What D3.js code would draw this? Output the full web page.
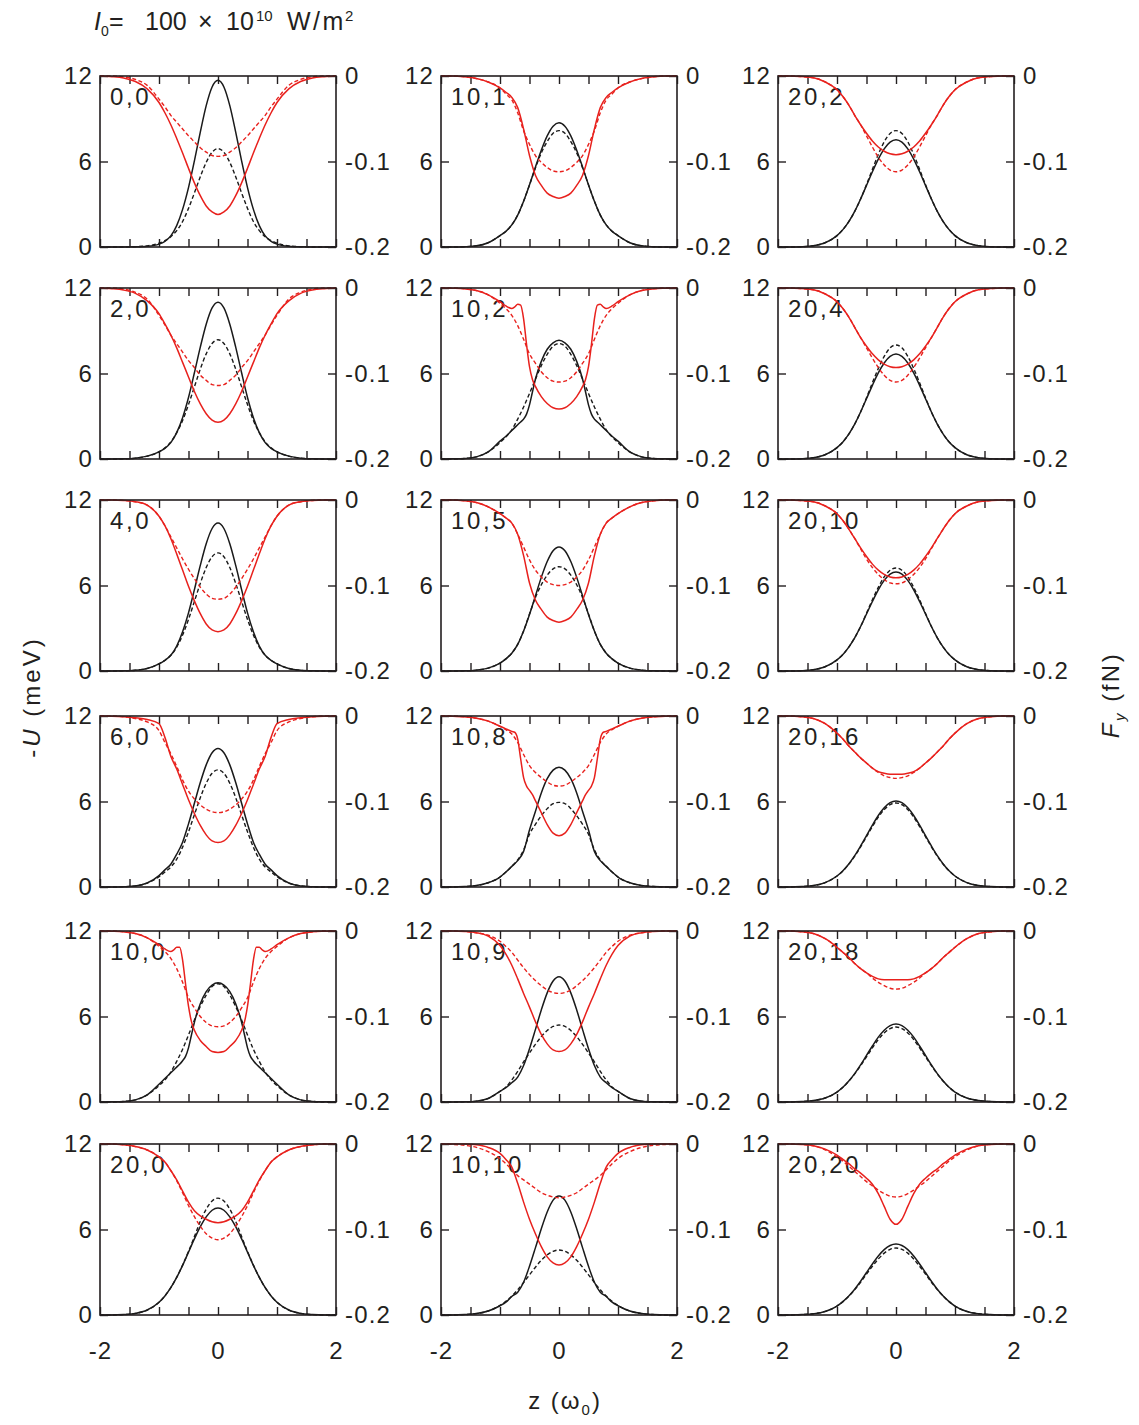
<!DOCTYPE html>
<html><head><meta charset="utf-8">
<script src="https://cdn.jsdelivr.net/npm/d3@7"></script>
<style>
body{margin:0;background:#fff}
text{font-family:"Liberation Sans",Arial,Helvetica,sans-serif;fill:#231f20}
</style>
</head><body>
<svg id="c" width="1139" height="1425"></svg>
<script>
// ---- data (half profiles, curves are symmetric in z) ----
const zGrid = [0,0.1,0.2,0.3,0.4,0.5,0.6,0.7,0.8,0.9,1.0,1.2,1.4,1.6,1.8,2.0];
const zGridFine = [0,0.1,0.2,0.3,0.4,0.45,0.5,0.55,0.6,0.65,0.7,0.75,0.8,0.9,1.0,1.2,1.4,1.6,1.8,2.0];
const panelLabels = ["0,0","10,1","20,2","2,0","10,2","20,4","4,0","10,5","20,10","6,0","10,8","20,16","10,0","10,9","20,18","20,0","10,10","20,20"];
const xTicks = [-2,-1.5,-1,-0.5,0,0.5,1,1.5,2];
const xTickLabels = [-2,0,2];
const uTicks = [0,6,12];
const fTicks = [-0.2,-0.1,0];

// -U (meV), solid
const uSolid = [
[11.7,11.23,9.92,8.06,6.04,4.17,2.64,1.5,0.78,0.4,0.2,0.05,0.01,0,0,0],
[8.72,8.48,7.8,6.79,5.6,4.36,3.21,2.24,1.55,1.1,0.8,0.3,0.08,0.02,0,0],
[7.53,7.36,6.89,6.17,5.28,4.32,3.37,2.5,1.78,1.22,0.8,0.3,0.09,0.02,0,0],
[11.0,10.6,9.46,7.85,6.05,4.32,2.9,1.85,1.15,0.75,0.5,0.2,0.06,0.01,0,0],
[8.33,8.15,7.7,6.85,5.6,4.7,3.8,3.15,2.8,2.6,2.4,2.2,2.0,1.6,1.25,0.5,0.15,0.04,0.01,0],
[7.37,7.2,6.74,6.04,5.17,4.23,3.3,2.45,1.75,1.2,0.8,0.3,0.09,0.02,0,0],
[10.38,10.0,8.93,7.41,5.71,4.08,2.75,1.75,1.1,0.75,0.5,0.18,0.05,0.01,0,0],
[8.71,8.44,7.68,6.57,5.27,3.97,2.81,1.87,1.25,0.85,0.55,0.2,0.06,0.01,0,0],
[6.95,6.8,6.36,5.7,4.88,4.0,3.12,2.33,1.68,1.16,0.78,0.3,0.09,0.02,0,0],
[9.72,9.42,8.57,7.33,5.88,4.43,3.14,2.3,1.6,1.2,0.8,0.28,0.07,0.02,0,0],
[8.41,8.2,7.6,6.6,5.3,4.0,2.5,1.85,1.45,1.05,0.7,0.3,0.1,0.03,0,0],
[6.04,5.92,5.56,5.02,4.34,3.61,2.88,2.2,1.62,1.14,0.77,0.31,0.1,0.03,0,0],
[8.36,8.2,7.75,6.9,5.6,4.7,3.8,3.2,2.9,2.65,2.45,2.25,2.05,1.65,1.25,0.5,0.15,0.04,0.01,0],
[8.79,8.49,7.66,6.46,5.08,3.74,2.56,1.75,1.35,1.0,0.75,0.25,0.06,0.01,0,0],
[5.47,5.36,5.04,4.55,3.93,3.27,2.6,1.99,1.47,1.03,0.7,0.28,0.1,0.03,0,0],
[7.51,7.35,6.89,6.2,5.34,4.41,3.48,2.64,1.92,1.34,0.89,0.35,0.11,0.03,0,0],
[8.35,8.06,7.23,6.05,4.71,3.42,2.3,1.6,1.3,0.9,0.65,0.28,0.1,0.03,0,0],
[4.98,4.88,4.59,4.14,3.58,2.98,2.37,1.81,1.33,0.94,0.63,0.25,0.09,0.03,0,0]
];
// -U (meV), dashed
const uDashed = [
[6.9,6.65,5.94,4.93,3.79,2.71,1.79,1.15,0.72,0.45,0.27,0.08,0.02,0,0,0],
[8.17,7.98,7.4,6.6,5.55,4.36,3.21,2.24,1.55,1.1,0.8,0.3,0.08,0.02,0,0],
[8.17,7.97,7.38,6.5,5.45,4.38,3.37,2.5,1.78,1.22,0.8,0.3,0.09,0.02,0,0],
[8.37,8.11,7.38,6.31,5.06,3.82,2.7,1.85,1.2,0.78,0.5,0.2,0.06,0.01,0,0],
[8.1,7.92,7.35,6.55,5.6,4.6,3.65,2.8,2.05,1.55,1.15,0.5,0.15,0.04,0,0],
[8.0,7.8,7.2,6.35,5.35,4.3,3.3,2.45,1.75,1.2,0.8,0.3,0.09,0.02,0,0],
[8.29,8.02,7.26,6.15,4.88,3.62,2.52,1.68,1.1,0.75,0.5,0.18,0.05,0.01,0,0],
[7.32,7.17,6.73,6.05,5.15,4.0,2.81,1.87,1.25,0.85,0.55,0.2,0.06,0.01,0,0],
[7.23,7.07,6.6,5.87,5.0,4.05,3.12,2.33,1.68,1.16,0.78,0.3,0.09,0.02,0,0],
[8.22,7.98,7.28,6.27,5.07,3.87,2.8,1.95,1.4,1.05,0.72,0.27,0.08,0.02,0,0],
[5.94,5.85,5.5,5.0,4.4,3.7,2.6,1.9,1.45,1.05,0.7,0.3,0.1,0.03,0,0],
[5.9,5.78,5.43,4.9,4.24,3.53,2.82,2.16,1.6,1.13,0.77,0.31,0.1,0.03,0,0],
[8.3,8.1,7.5,6.7,5.75,4.7,3.7,2.85,2.1,1.55,1.15,0.5,0.15,0.04,0,0],
[5.4,5.3,5.02,4.59,4.04,3.44,2.82,2.15,1.55,1.05,0.75,0.25,0.06,0.01,0,0],
[5.26,5.15,4.85,4.38,3.8,3.17,2.55,1.97,1.46,1.03,0.7,0.28,0.1,0.03,0,0],
[8.2,8.0,7.43,6.57,5.5,4.45,3.5,2.64,1.92,1.34,0.89,0.35,0.11,0.03,0,0],
[4.56,4.47,4.22,3.84,3.35,2.82,2.28,1.77,1.33,0.96,0.67,0.28,0.1,0.03,0,0],
[4.7,4.61,4.34,3.93,3.42,2.87,2.3,1.78,1.32,0.94,0.63,0.25,0.09,0.03,0,0]
];
// F_y (fN), solid
const fSolid = [
[-0.162,-0.159,-0.152,-0.140,-0.125,-0.108,-0.090,-0.073,-0.057,-0.043,-0.031,-0.015,-0.0065,-0.0024,-0.0008,0],
[-0.143,-0.141,-0.137,-0.128,-0.116,-0.093,-0.062,-0.037,-0.025,-0.019,-0.014,-0.007,-0.003,-0.001,0,0],
[-0.092,-0.091,-0.088,-0.083,-0.076,-0.067,-0.057,-0.046,-0.034,-0.024,-0.016,-0.007,-0.002,-0.0007,0,0],
[-0.157,-0.1545,-0.147,-0.1355,-0.121,-0.104,-0.087,-0.070,-0.055,-0.042,-0.030,-0.015,-0.0063,-0.0024,-0.0008,0],
[-0.1415,-0.140,-0.135,-0.127,-0.115,-0.107,-0.092,-0.066,-0.036,-0.020,-0.019,-0.022,-0.024,-0.021,-0.016,-0.008,-0.003,-0.001,-0.0003,0],
[-0.093,-0.092,-0.089,-0.084,-0.077,-0.068,-0.058,-0.046,-0.034,-0.024,-0.016,-0.007,-0.002,-0.0007,0,0],
[-0.154,-0.152,-0.145,-0.133,-0.118,-0.101,-0.082,-0.063,-0.045,-0.030,-0.019,-0.006,-0.002,-0.0005,0,0],
[-0.143,-0.141,-0.137,-0.128,-0.117,-0.097,-0.065,-0.040,-0.027,-0.021,-0.016,-0.008,-0.003,-0.001,0,0],
[-0.091,-0.090,-0.087,-0.082,-0.075,-0.066,-0.056,-0.045,-0.034,-0.024,-0.016,-0.007,-0.002,-0.0007,0,0],
[-0.148,-0.146,-0.139,-0.128,-0.114,-0.098,-0.080,-0.062,-0.047,-0.025,-0.009,-0.004,-0.002,-0.0008,-0.0002,0],
[-0.140,-0.137,-0.127,-0.113,-0.099,-0.092,-0.087,-0.082,-0.072,-0.050,-0.027,-0.019,-0.018,-0.015,-0.012,-0.006,-0.0025,-0.001,-0.0003,0],
[-0.068,-0.068,-0.067,-0.065,-0.061,-0.055,-0.049,-0.042,-0.035,-0.027,-0.020,-0.009,-0.003,-0.001,0,0],
[-0.142,-0.141,-0.135,-0.128,-0.116,-0.106,-0.088,-0.062,-0.034,-0.019,-0.019,-0.022,-0.024,-0.021,-0.016,-0.008,-0.003,-0.001,-0.0003,0],
[-0.141,-0.139,-0.132,-0.121,-0.106,-0.089,-0.073,-0.056,-0.040,-0.027,-0.017,-0.006,-0.002,-0.0005,0,0],
[-0.057,-0.057,-0.057,-0.056,-0.053,-0.049,-0.044,-0.038,-0.031,-0.025,-0.019,-0.009,-0.003,-0.001,0,0],
[-0.092,-0.091,-0.088,-0.084,-0.078,-0.068,-0.055,-0.042,-0.031,-0.021,-0.015,-0.007,-0.003,-0.001,0,0],
[-0.1415,-0.139,-0.132,-0.120,-0.105,-0.088,-0.068,-0.046,-0.027,-0.018,-0.011,-0.004,-0.001,0,0,0],
[-0.094,-0.088,-0.073,-0.058,-0.047,-0.040,-0.034,-0.029,-0.023,-0.018,-0.013,-0.006,-0.002,-0.0005,0,0]
];
// F_y (fN), dashed
const fDashed = [
[-0.094,-0.093,-0.089,-0.084,-0.077,-0.070,-0.062,-0.054,-0.046,-0.036,-0.027,-0.011,-0.004,-0.001,0,0],
[-0.112,-0.111,-0.107,-0.101,-0.093,-0.080,-0.064,-0.043,-0.028,-0.021,-0.014,-0.007,-0.003,-0.001,0,0],
[-0.112,-0.110,-0.104,-0.095,-0.083,-0.070,-0.057,-0.046,-0.034,-0.024,-0.016,-0.007,-0.002,-0.0007,0,0],
[-0.114,-0.113,-0.108,-0.102,-0.093,-0.085,-0.075,-0.065,-0.055,-0.043,-0.032,-0.013,-0.005,-0.0012,0,0],
[-0.110,-0.109,-0.105,-0.098,-0.088,-0.077,-0.060,-0.044,-0.032,-0.024,-0.018,-0.008,-0.003,-0.001,0,0],
[-0.110,-0.108,-0.102,-0.093,-0.082,-0.070,-0.058,-0.046,-0.034,-0.024,-0.016,-0.007,-0.002,-0.0007,0,0],
[-0.116,-0.115,-0.110,-0.102,-0.092,-0.081,-0.069,-0.056,-0.043,-0.030,-0.019,-0.006,-0.002,-0.0005,0,0],
[-0.100,-0.099,-0.096,-0.090,-0.082,-0.070,-0.055,-0.040,-0.027,-0.021,-0.016,-0.008,-0.003,-0.001,0,0],
[-0.098,-0.097,-0.093,-0.087,-0.079,-0.069,-0.057,-0.045,-0.034,-0.024,-0.016,-0.007,-0.002,-0.0007,0,0],
[-0.113,-0.112,-0.109,-0.104,-0.097,-0.088,-0.075,-0.059,-0.044,-0.031,-0.017,-0.007,-0.003,-0.001,0,0],
[-0.082,-0.081,-0.077,-0.072,-0.066,-0.058,-0.045,-0.031,-0.021,-0.016,-0.012,-0.006,-0.0025,-0.001,0,0],
[-0.073,-0.072,-0.070,-0.066,-0.061,-0.055,-0.049,-0.042,-0.035,-0.027,-0.020,-0.009,-0.003,-0.001,0,0],
[-0.112,-0.111,-0.107,-0.100,-0.090,-0.078,-0.060,-0.044,-0.032,-0.024,-0.018,-0.008,-0.003,-0.001,0,0],
[-0.073,-0.072,-0.069,-0.064,-0.058,-0.051,-0.043,-0.034,-0.025,-0.018,-0.012,-0.005,-0.002,-0.0005,0,0],
[-0.068,-0.067,-0.064,-0.060,-0.055,-0.049,-0.044,-0.038,-0.031,-0.025,-0.019,-0.009,-0.003,-0.001,0,0],
[-0.112,-0.110,-0.105,-0.096,-0.085,-0.072,-0.057,-0.043,-0.031,-0.021,-0.015,-0.007,-0.003,-0.001,0,0],
[-0.063,-0.062,-0.060,-0.057,-0.052,-0.047,-0.042,-0.037,-0.030,-0.023,-0.017,-0.009,-0.004,-0.0015,-0.0005,0],
[-0.062,-0.061,-0.058,-0.054,-0.049,-0.044,-0.038,-0.032,-0.026,-0.020,-0.015,-0.007,-0.002,-0.0005,0,0]
];

// ---- layout ----
const colX = [100, 441, 778];
const rowY = [76, 288, 500, 716, 931, 1144];
const PW = 236, PH = 171;
const RED = "#e8211d", BLACK = "#1a1a1a", INK = "#231f20";
const FS = 24;

const svg = d3.select("#c");

function fullCurve(vals){
  const g = vals.length === zGridFine.length ? zGridFine : zGrid;
  const pts = [];
  for (let i = g.length - 1; i >= 1; i--) pts.push([-g[i], vals[i]]);
  for (let i = 0; i < g.length; i++) pts.push([g[i], vals[i]]);
  return pts;
}

panelLabels.forEach((lab, p) => {
  const r = Math.floor(p / 3), c = p % 3;
  const x0 = colX[c], y0 = rowY[r];
  const x = d3.scaleLinear().domain([-2, 2]).range([x0, x0 + PW]);
  const yU = d3.scaleLinear().domain([0, 12]).range([y0 + PH, y0]);
  const yF = d3.scaleLinear().domain([-0.2, 0]).range([y0 + PH, y0]);
  const g = svg.append("g");

  // panel label (under curves)
  g.append("text").attr("x", x0 + 10).attr("y", y0 + 29)
    .attr("font-size", FS).attr("letter-spacing", 2.6).text(lab);

  // axes
  const bottom = d3.axisBottom(x).tickValues(xTicks).tickSizeInner(-8).tickSizeOuter(0).tickPadding(27)
    .tickFormat(d => (r === 5 && xTickLabels.includes(d)) ? String(d) : "");
  const top = d3.axisTop(x).tickValues(xTicks).tickSizeInner(-8).tickSizeOuter(0).tickFormat("");
  const left = d3.axisLeft(yU).tickValues(uTicks).tickSizeInner(-8).tickSizeOuter(0).tickPadding(7)
    .tickFormat(d => String(d));
  const right = d3.axisRight(yF).tickValues(fTicks).tickSizeInner(-8).tickSizeOuter(0).tickPadding(9)
    .tickFormat(d => String(d));

  const axes = [
    [bottom, `translate(0,${y0 + PH})`],
    [top, `translate(0,${y0})`],
    [left, `translate(${x0},0)`],
    [right, `translate(${x0 + PW},0)`]
  ];
  axes.forEach(([ax, tr]) => {
    const a = g.append("g").attr("transform", tr).call(ax);
    a.select(".domain").remove();
    a.selectAll("line").attr("stroke", INK).attr("stroke-width", 1.4);
    a.selectAll("text").attr("font-size", FS).attr("letter-spacing", 1.2)
      .attr("font-family", '"Liberation Sans",Arial,sans-serif').attr("fill", INK);
  });

  const lineU = d3.line().x(d => x(d[0])).y(d => yU(d[1])).curve(d3.curveMonotoneX);
  const lineF = d3.line().x(d => x(d[0])).y(d => yF(d[1])).curve(d3.curveMonotoneX);

  g.append("path").attr("d", lineU(fullCurve(uDashed[p]))).attr("fill", "none")
    .attr("stroke", BLACK).attr("stroke-width", 1.4).attr("stroke-dasharray", "4,2.5");
  g.append("path").attr("d", lineU(fullCurve(uSolid[p]))).attr("fill", "none")
    .attr("stroke", BLACK).attr("stroke-width", 1.5);
  g.append("path").attr("d", lineF(fullCurve(fDashed[p]))).attr("fill", "none")
    .attr("stroke", RED).attr("stroke-width", 1.4).attr("stroke-dasharray", "4,2.5");
  g.append("path").attr("d", lineF(fullCurve(fSolid[p]))).attr("fill", "none")
    .attr("stroke", RED).attr("stroke-width", 1.5);

  // frame
  g.append("rect").attr("x", x0).attr("y", y0).attr("width", PW).attr("height", PH)
    .attr("fill", "none").attr("stroke", INK).attr("stroke-width", 1.6);
});

// title
const t = svg.append("text").attr("y", 30).attr("font-size", 25);
t.append("tspan").attr("x", 94).attr("font-style", "italic").text("I");
t.append("tspan").attr("x", 101).attr("font-size", 14).attr("dy", 6).text("0");
t.append("tspan").attr("x", 109).attr("dy", -6).text("=");
t.append("tspan").attr("x", 145).text("100");
t.append("tspan").attr("x", 198).text("\u00d7");
t.append("tspan").attr("x", 226).text("10");
t.append("tspan").attr("x", 256).attr("font-size", 15).attr("dy", -9).text("10");
t.append("tspan").attr("x", 287).attr("dy", 9).attr("letter-spacing", 2.5).text("W/m");
t.append("tspan").attr("x", 345).attr("font-size", 15).attr("dy", -9).text("2");

// x-axis title
const xt = svg.append("text").attr("x", 565).attr("y", 1409).attr("text-anchor", "middle")
  .attr("font-size", FS).attr("letter-spacing", 2);
xt.append("tspan").text("z (\u03c9");
xt.append("tspan").attr("font-size", 15).attr("dy", 6).text("0");
xt.append("tspan").attr("dy", -6).text(")");

// left y title
const yl = svg.append("text").attr("transform", "translate(40,697) rotate(-90)")
  .attr("text-anchor", "middle").attr("font-size", FS).attr("letter-spacing", 3);
yl.append("tspan").text("-");
yl.append("tspan").attr("font-style", "italic").text("U");
yl.append("tspan").text(" (meV)");

// right y title
const yr = svg.append("text").attr("transform", "translate(1119,695) rotate(-90)")
  .attr("text-anchor", "middle").attr("font-size", FS).attr("letter-spacing", 2.5);
yr.append("tspan").attr("font-style", "italic").text("F");
yr.append("tspan").attr("font-style", "italic").attr("font-size", 15).attr("dy", 6).text("y");
yr.append("tspan").attr("dy", -6).text(" (fN)");
</script>
</body></html>
